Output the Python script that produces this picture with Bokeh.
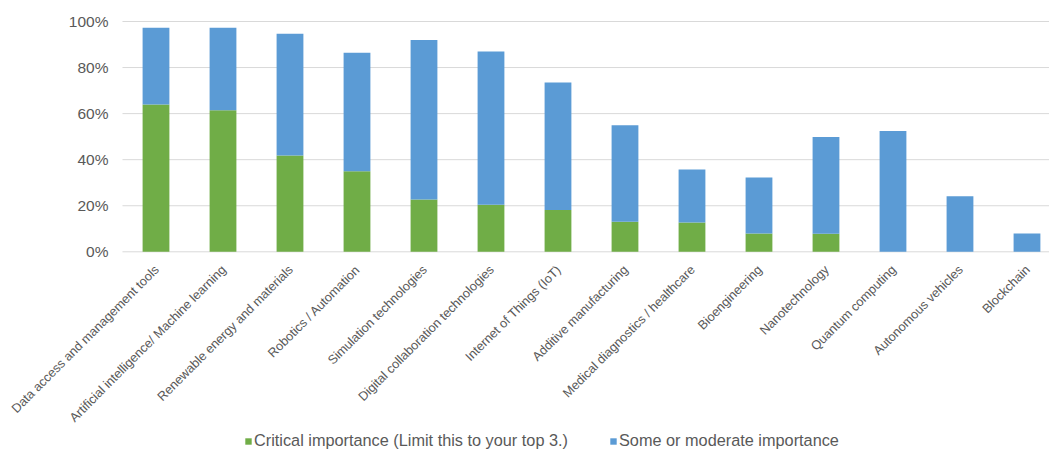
import math
from bokeh.plotting import figure
from bokeh.models import ColumnDataSource, Range1d, Legend, LegendItem
from bokeh.core.properties import value
from bokeh.embed import file_html
from bokeh.resources import INLINE

categories = [
    "Data access and management tools",
    "Artificial intelligence/ Machine learning",
    "Renewable energy and materials",
    "Robotics / Automation",
    "Simulation technologies",
    "Digital collaboration technologies",
    "Internet of Things (IoT)",
    "Additive manufacturing",
    "Medical diagnostics / healthcare",
    "Bioengineering",
    "Nanotechnology",
    "Quantum computing",
    "Autonomous vehicles",
    "Blockchain",
]
critical = [0.640, 0.615, 0.418, 0.350, 0.227, 0.204, 0.182, 0.130, 0.127, 0.079, 0.078, 0.0, 0.0, 0.0]
moderate = [0.333, 0.358, 0.529, 0.514, 0.693, 0.666, 0.553, 0.420, 0.230, 0.244, 0.421, 0.525, 0.241, 0.079]
series_names = ["Critical importance (Limit this to your top 3.)", "Some or moderate importance"]
colors = ["#70AD47", "#5B9BD5"]
y_ticks = [0, 0.2, 0.4, 0.6, 0.8, 1.0]
y_tick_labels = ["0%", "20%", "40%", "60%", "80%", "100%"]

FONT = "Liberation Sans"
GREY = "#595959"
GRID = "#D9D9D9"

n = len(categories)
xs = list(range(n))
X_START, X_END = -2.3209, 13.336   # whole canvas is the plotting frame
CAT_START = -0.5                    # left edge of the category area

src = ColumnDataSource(dict(x=xs, critical=critical, moderate=moderate))
lab_src = ColumnDataSource(dict(x=xs, y=[0.0] * n, text=categories))
grid_src = ColumnDataSource(dict(y=y_ticks, x0=[CAT_START] * len(y_ticks),
                                 x1=[X_END] * len(y_ticks), text=y_tick_labels))

p = figure(frame_width=1049, frame_height=450, output_backend="svg", toolbar_location=None,
           x_range=Range1d(X_START, X_END), y_range=Range1d(-0.8628, 1.0912),
           min_border_left=0, min_border_right=0, min_border_top=0, min_border_bottom=0)
p.outline_line_color = None
p.background_fill_color = "white"
p.border_fill_color = "white"
p.xaxis.visible = False
p.yaxis.visible = False
p.xgrid.visible = False
p.ygrid.visible = False

# horizontal gridlines (value axis)
p.segment(x0="x0", x1="x1", y0="y", y1="y", source=grid_src, line_color=GRID, line_width=1)

# value-axis tick labels
p.text(x="x0", y="y", text="text", source=grid_src, x_offset=-14,
       text_align="right", text_baseline="middle",
       text_font=value(FONT), text_font_size=value("15.5px"), text_color=GREY)

rs = p.vbar_stack(["critical", "moderate"], x="x", width=0.4, source=src,
                  color=colors, line_color=None)

# category labels, rotated 45 degrees, ending at each category position
p.text(x="x", y="y", text="text", source=lab_src, angle=math.pi / 4,
       text_align="right", text_baseline="top", x_offset=-4, y_offset=11,
       text_font=value(FONT), text_font_size=value("12.7px"), text_color=GREY)

legend = Legend(items=[LegendItem(label=series_names[i], renderers=[rs[i]]) for i in range(2)],
                orientation="horizontal", location=(244, 0))
legend.label_text_font = FONT
legend.label_text_font_size = "16.3px"
legend.label_text_color = GREY
legend.glyph_width = 8
legend.glyph_height = 8
legend.label_height = 18
legend.label_standoff = 2
legend.spacing = 41
legend.border_line_color = None
legend.background_fill_alpha = 0
legend.padding = 2
legend.margin = 0
p.add_layout(legend, "center")

open("out.html", "w").write(file_html(p, INLINE))
